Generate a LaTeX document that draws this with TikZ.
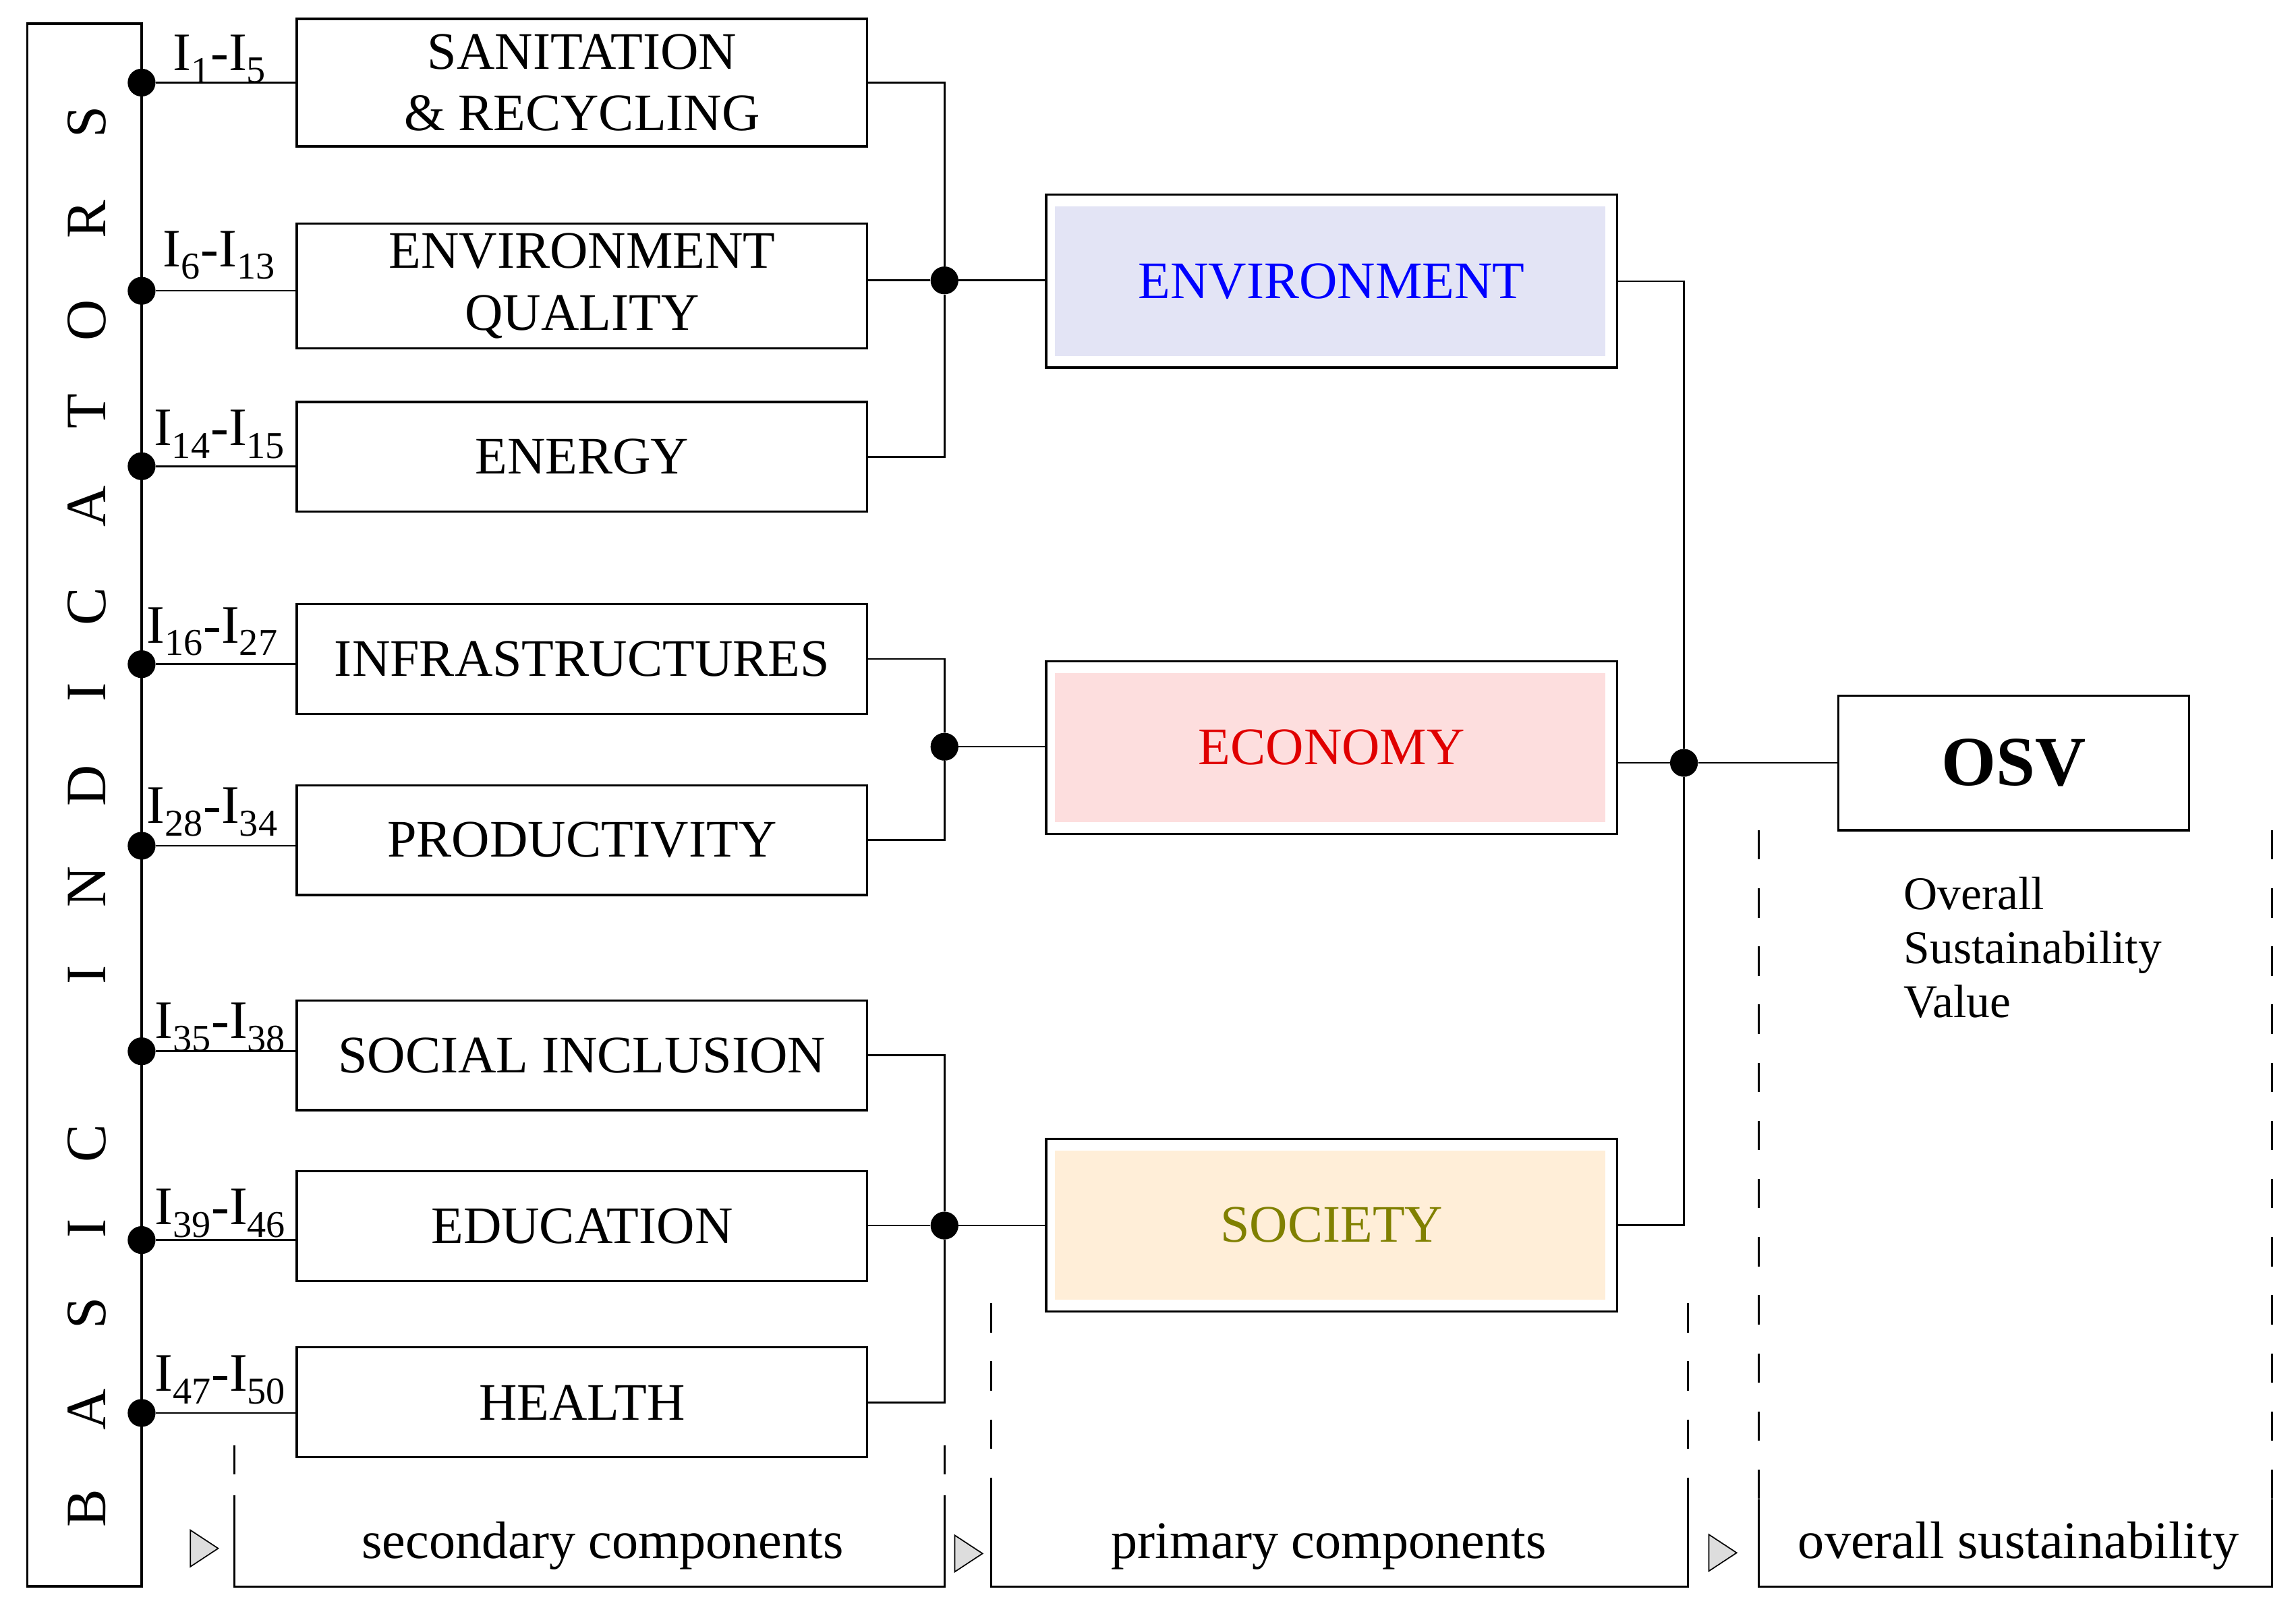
\documentclass[tikz,border=0pt]{standalone}
\usepackage{fontspec}
\setmainfont{Liberation Serif}
\usepackage{tikz}
\usetikzlibrary{calc}
\newcommand{\BoxFont}{\fontsize{36}{42}\selectfont}
\newcommand{\TagFont}{\fontsize{37}{42}\selectfont}
\newcommand{\SideFont}{\fontsize{39}{39}\selectfont}
\newcommand{\NoteFont}{\fontsize{32}{37}\selectfont}
\definecolor{envfill}{HTML}{E3E4F5}
\definecolor{ecofill}{HTML}{FDDEDE}
\definecolor{socfill}{HTML}{FFEED8}
\definecolor{envtext}{HTML}{0000FF}
\definecolor{ecotext}{HTML}{E00000}
\definecolor{soctext}{HTML}{808000}
\definecolor{trifill}{HTML}{DDDDDD}
\tikzset{
	secbox/.style={draw, line width=1.5pt, minimum width=389.6pt, minimum height=75pt, inner sep=0pt, align=center, font=\BoxFont},
	primbox/.style={draw, line width=1.5pt, minimum width=390pt, minimum height=118pt, inner sep=0pt, font=\BoxFont,
		path picture={\fill[#1] ($(path picture bounding box.north west)+(6pt,-8pt)$) rectangle ($(path picture bounding box.south east)+(-8pt,8pt)$);}},
	junc/.style={circle, fill, minimum size=19pt, inner sep=0pt},
	tag/.style={anchor=base, inner sep=0pt, font=\TagFont},
	letter/.style={rotate=90, anchor=base, inner sep=0pt, font=\SideFont},
	caption/.style={anchor=base, inner sep=0pt, font=\BoxFont},
	link/.style={line width=1.2pt},
	guide/.style={line width=1.2pt, dash pattern=on 20pt off 19.7pt},
	tri/.style={draw, line width=0.8pt, fill=trifill},
}

\begin{document}
\begin{tikzpicture}[x=1pt, y=-1pt]
	\useasboundingbox (0,0) rectangle (1568,1103.6);

	% Define nodes
	\node[draw, line width=1.5pt, minimum width=78pt, minimum height=1067.3pt, inner sep=0pt] (basic) at (57.7,549.75) {};
	\foreach \ch/\yy [count=\i] in {B/1030, A/962.7, S/896.6, I/839.2, C/780.8, I/665.8, N/605.9, D/536.4, I/473, C/414.3, A/346, T/280.9, O/218.6, R/149.8, S/83.4}
		\node[letter] (b\i) at (72,\yy) {\ch};

	\node[secbox, minimum height=87pt] (s1) at (397.5,56.4) {SANITATION\\\& RECYCLING};
	\node[secbox, minimum height=85pt] (s2) at (397.5,195.3) {ENVIRONMENT\\QUALITY};
	\node[secbox] (s3) at (397.5,312) {ENERGY};
	\node[secbox] (s4) at (397.5,450) {INFRASTRUCTURES};
	\node[secbox] (s5) at (397.5,573.75) {PRODUCTIVITY};
	\node[secbox] (s6) at (397.5,720.7) {SOCIAL INCLUSION};
	\node[secbox] (s7) at (397.5,837.5) {EDUCATION};
	\node[secbox] (s8) at (397.5,957.75) {HEALTH};

	\node[tag] (i1) at (150,48.2) {I\textsubscript{1}-I\textsubscript{5}};
	\node[tag] (i2) at (149.8,182) {I\textsubscript{6}-I\textsubscript{13}};
	\node[tag] (i3) at (150,304.3) {I\textsubscript{14}-I\textsubscript{15}};
	\node[tag] (i4) at (145,439) {I\textsubscript{16}-I\textsubscript{27}};
	\node[tag] (i5) at (145,562.4) {I\textsubscript{28}-I\textsubscript{34}};
	\node[tag] (i6) at (150.5,709.3) {I\textsubscript{35}-I\textsubscript{38}};
	\node[tag] (i7) at (150.5,836.3) {I\textsubscript{39}-I\textsubscript{46}};
	\node[tag] (i8) at (150.5,950.2) {I\textsubscript{47}-I\textsubscript{50}};

	\node[primbox=envfill, text=envtext] (env) at (909.4,192) {ENVIRONMENT};
	\node[primbox=ecofill, text=ecotext] (eco) at (909.4,510.5) {ECONOMY};
	\node[primbox=socfill, text=soctext] (soc) at (909.4,836.6) {SOCIETY};

	\node[draw, line width=1.5pt, minimum width=239.5pt, minimum height=92pt, inner sep=0pt, font=\fontsize{48}{56}\selectfont\bfseries] (osv) at (1375.25,521) {OSV};
	\node[anchor=north west, align=left, inner sep=0pt, font=\NoteFont] (osvnote) at (1300,598.6) {Overall\\Sustainability\\Value};

	\node[caption] (capsec) at (411.5,1064.5) {secondary components};
	\node[caption] (cappri) at (907.5,1064.5) {primary components};
	\node[caption] (capall) at (1378.5,1064.5) {overall sustainability};

	% Connect the nodes
	\foreach \yy/\i in {56.4/1, 198.6/2, 318.4/3, 453.6/4, 577.6/5, 718/6, 846.9/7, 965/8}
		\node[junc] (d\i) at (96.7,\yy) {};
	\foreach \i in {1,...,8}
		\draw[link] (d\i) -- (d\i -| s\i.west);

	\node[junc] (je) at (645,191.5) {};
	\node[junc] (jc) at (645,510) {};
	\node[junc] (js) at (645,837) {};
	\node[junc] (jo) at (1150,521) {};

	\draw[link] (s1.east) -| (je);
	\draw[link] (s2.east |- je) -- (je);
	\draw[link] (s3.east) -| (je);
	\draw[link] (je) -- (je -| env.west);
	\draw[link] (s4.east) -| (jc);
	\draw[link] (s5.east) -| (jc);
	\draw[link] (jc) -- (jc -| eco.west);
	\draw[link] (s6.east) -| (js);
	\draw[link] (s7.east |- js) -- (js);
	\draw[link] (s8.east) -| (js);
	\draw[link] (js) -- (js -| soc.west);
	\draw[link] (env.east) -| (jo);
	\draw[link] (eco.east |- jo) -- (jo);
	\draw[link] (soc.east) -| (jo);
	\draw[link] (jo) -- (osv.west);

	% Stage brackets
	\foreach \xl/\xr/\yt/\ys in {160/645/987/1021, 677/1152.6/890/1014, 1201/1551.5/567/1024} {
		\draw[guide] (\xl,\yt) -- (\xl,\ys) (\xr,\yt) -- (\xr,\ys);
		\draw[link] (\xl,\ys) |- (\xr,1083.5) -- (\xr,\ys);
	}
	\foreach \xx/\yy in {130/1057.5, 652/1061, 1167/1060.5}
		\draw[tri] (\xx,\yy-12.5) -- ++(19,12.5) -- ++(-19,12.5) -- cycle;
\end{tikzpicture}
\end{document}
